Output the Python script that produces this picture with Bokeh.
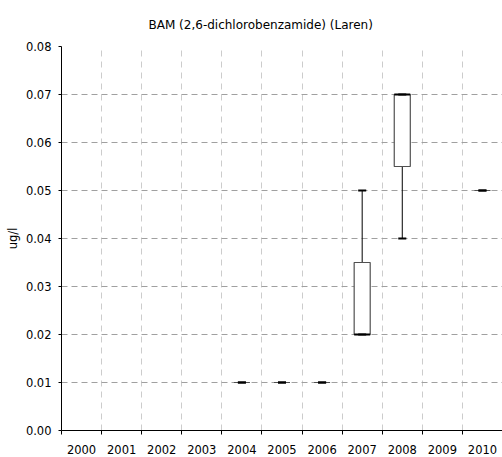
import numpy as np
from bokeh.plotting import figure
from bokeh.models import FixedTicker, Range1d, NumeralTickFormatter
from bokeh.embed import file_html
from bokeh.resources import INLINE

# Yearly BAM concentration summaries (ug/l) at Laren
years = ["2000", "2001", "2002", "2003", "2004", "2005",
         "2006", "2007", "2008", "2009", "2010"]
nan = float("nan")
whisker_low = [nan, nan, nan, nan, 0.01, 0.01, 0.01, 0.02, 0.04, nan, 0.05]
quartile_1 = [nan, nan, nan, nan, 0.01, 0.01, 0.01, 0.02, 0.055, nan, 0.05]
median = [nan, nan, nan, nan, 0.01, 0.01, 0.01, 0.02, 0.07, nan, 0.05]
quartile_3 = [nan, nan, nan, nan, 0.01, 0.01, 0.01, 0.035, 0.07, nan, 0.05]
whisker_high = [nan, nan, nan, nan, 0.01, 0.01, 0.01, 0.05, 0.07, nan, 0.05]
y_ticks = [0.00, 0.01, 0.02, 0.03, 0.04, 0.05, 0.06, 0.07, 0.08]

FONT = "DejaVu Sans"

x = np.arange(len(years)) + 0.5
lo = np.array(whisker_low)
q1 = np.array(quartile_1)
med = np.array(median)
q3 = np.array(quartile_3)
hi = np.array(whisker_high)

p = figure(width=502, height=457,
           x_range=Range1d(0, len(years)), y_range=Range1d(y_ticks[0], y_ticks[-1]),
           output_backend="svg", toolbar_location=None,
           min_border_left=61, min_border_right=0,
           min_border_top=45, min_border_bottom=27)
p.outline_line_color = None
p.background_fill_color = "white"
p.border_fill_color = "white"

# title
p.title.text = "BAM (2,6-dichlorobenzamide) (Laren)"
p.title.text_font = FONT
p.title.text_font_size = "12px"
p.title.text_font_style = "normal"
p.title.text_color = "#000000"
p.title.align = "left"
p.title.offset = 87
p.title.standoff = 30

# x axis: labels at category centres, ticks and grid at the boundaries
xticker = FixedTicker(ticks=list(x), minor_ticks=list(range(len(years) + 1)))
p.xaxis.ticker = xticker
p.xgrid.ticker = xticker
p.xaxis.major_label_overrides = {float(v): yr for v, yr in zip(x, years)}
p.xaxis.major_tick_line_color = None
p.xaxis.minor_tick_line_color = "black"
p.xaxis.minor_tick_in = 0
p.xaxis.minor_tick_out = 4
p.xaxis.major_label_standoff = 8
p.xaxis.major_label_text_font = FONT
p.xaxis.major_label_text_font_size = "11.5px"
p.xaxis.major_label_text_color = "black"
p.xaxis.axis_line_color = "black"
p.xgrid.grid_line_color = None
p.xgrid.minor_grid_line_color = "#cccccc"
p.xgrid.minor_grid_line_dash = "6 5"

# y axis
yticker = FixedTicker(ticks=y_ticks)
p.yaxis.ticker = yticker
p.ygrid.ticker = yticker
p.yaxis.formatter = NumeralTickFormatter(format="0.00")
p.yaxis.major_tick_in = 0
p.yaxis.major_tick_out = 3
p.yaxis.minor_tick_line_color = None
p.yaxis.major_label_standoff = 7
p.yaxis.major_label_text_font = FONT
p.yaxis.major_label_text_font_size = "11.5px"
p.yaxis.major_label_text_color = "black"
p.yaxis.axis_line_color = "black"
p.yaxis.axis_label = "ug/l"
p.yaxis.axis_label_text_font = FONT
p.yaxis.axis_label_text_font_size = "11.5px"
p.yaxis.axis_label_text_font_style = "normal"
p.yaxis.axis_label_text_color = "black"
p.yaxis.axis_label_standoff = 3
p.ygrid.grid_line_color = "#a0a0a0"
p.ygrid.grid_line_dash = "6 4"

# whiskers
p.segment(x0=x, y0=q3, x1=x, y1=hi, line_color="black", line_width=1)
p.segment(x0=x, y0=lo, x1=x, y1=q1, line_color="black", line_width=1)

# boxes
box_w = 0.4
p.quad(left=x - box_w / 2, right=x + box_w / 2, bottom=q1, top=q3,
       fill_color="white", line_color="#505050", line_width=1.2)

# medians inside boxes that have a spread
has_box = q3 > q1
p.segment(x0=x[has_box] - box_w / 2, y0=med[has_box],
          x1=x[has_box] + box_w / 2, y1=med[has_box],
          line_color="black", line_width=2)

# whisker caps
cap_w = 0.2
p.segment(x0=x - cap_w / 2, y0=hi, x1=x + cap_w / 2, y1=hi,
          line_color="black", line_width=2)
p.segment(x0=x - cap_w / 2, y0=lo, x1=x + cap_w / 2, y1=lo,
          line_color="black", line_width=2)

open("out.html", "w").write(file_html(p, INLINE))
